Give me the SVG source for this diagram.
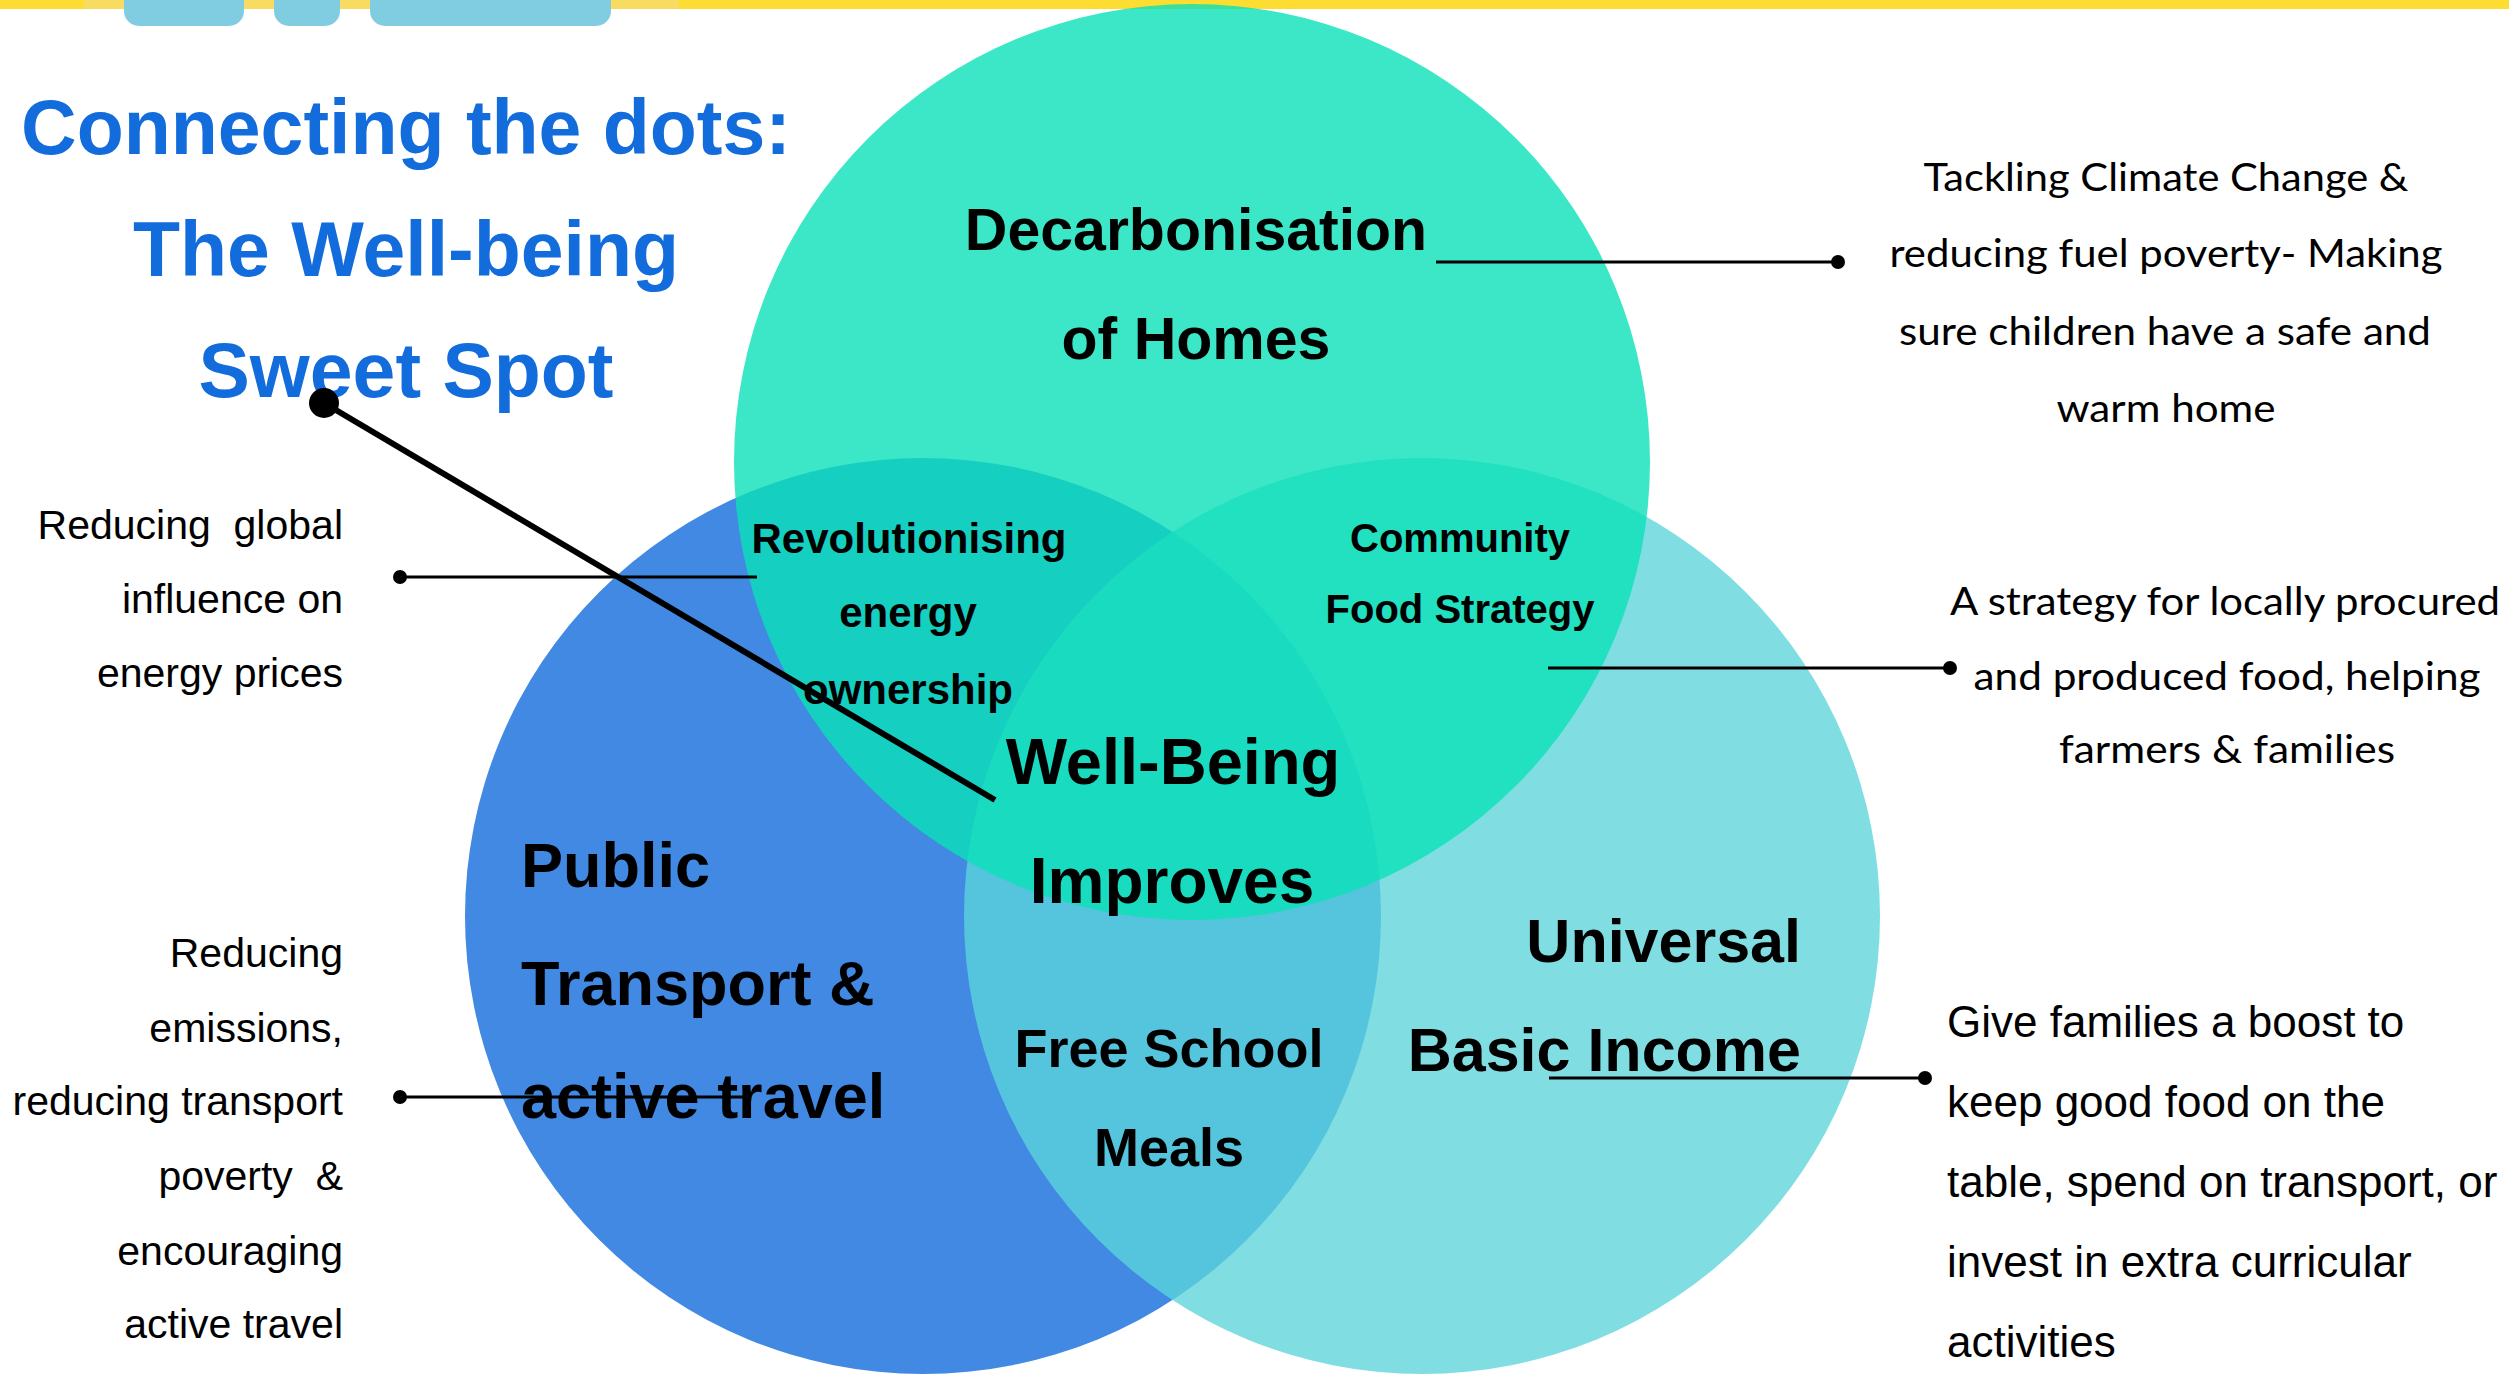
<svg xmlns="http://www.w3.org/2000/svg" width="2509" height="1376" viewBox="0 0 2509 1376">
<style>
.title{font-family:"Liberation Sans",Arial,sans-serif;font-weight:bold;fill:#136CDC;font-size:77px;text-anchor:middle}
.big{font-family:"Liberation Sans",Arial,sans-serif;font-weight:bold;fill:#000}
.note{font-family:"Liberation Sans",Arial,sans-serif;fill:#000}
.cal{font-family:Lato,"Noto Sans",sans-serif;fill:#000;font-size:39px;text-anchor:middle}
.conn{stroke:#000;stroke-width:3;fill:none}
.dot{fill:#000}
.pill{fill:#80CCE0}
</style>
<rect x="0" y="0" width="2509" height="1376" fill="#FFFFFF"/>
<g id="header">
<rect x="0" y="0" width="2509" height="9" fill="#FEDD33"/>
<rect x="84" y="0" width="595" height="9" fill="#F8DC62"/>
<rect class="pill" x="124" y="-20" width="120" height="46" rx="15"/>
<rect class="pill" x="274" y="-20" width="66" height="46" rx="15"/>
<rect class="pill" x="370" y="-20" width="241" height="46" rx="15"/>
</g>
<g id="title">
<text class="title" x="406" y="154">Connecting the dots:</text>
<text class="title" x="406" y="276">The Well-being</text>
<text class="title" x="406" y="397">Sweet Spot</text>
</g>
<g id="circle-transport">
<circle cx="923" cy="916" r="458" fill="#4189E3"/>
</g>
<g id="circle-income">
<circle cx="1422" cy="916" r="458" fill="#5BD4DB" fill-opacity="0.775"/>
</g>
<g id="circle-homes">
<circle cx="1192" cy="462" r="458" fill="#0AE1B8" fill-opacity="0.8"/>
</g>
<g id="label-homes" class="big" font-size="59" text-anchor="middle">
<text x="1196" y="250">Decarbonisation</text>
<text x="1196" y="359">of Homes</text>
</g>
<g id="label-energy" class="big" font-size="42" text-anchor="middle">
<text x="909" y="553">Revolutionising</text>
<text x="908" y="627">energy</text>
<text x="908" y="704">ownership</text>
</g>
<g id="label-food" class="big" font-size="40" text-anchor="middle">
<text x="1460" y="552">Community</text>
<text x="1460" y="623">Food Strategy</text>
</g>
<g id="label-wellbeing" class="big" font-size="65" text-anchor="middle">
<text x="1173" y="784">Well-Being</text>
<text x="1172" y="903" font-size="64">Improves</text>
</g>
<g id="label-transport" class="big" font-size="63">
<text x="521" y="887">Public</text>
<text x="521" y="1005">Transport &amp;</text>
<text x="521" y="1118">active travel</text>
</g>
<g id="label-meals" class="big" font-size="54" text-anchor="middle">
<text x="1169" y="1067">Free School</text>
<text x="1169" y="1166">Meals</text>
</g>
<g id="label-income" class="big" font-size="61" text-anchor="end">
<text x="1801" y="962">Universal</text>
<text x="1801" y="1071">Basic Income</text>
</g>
<g id="note-homes">
<text class="cal" x="2166" y="191" textLength="485" lengthAdjust="spacingAndGlyphs">Tackling Climate Change &amp;</text>
<text class="cal" x="2166" y="267" textLength="553" lengthAdjust="spacingAndGlyphs">reducing fuel poverty- Making</text>
<text class="cal" x="2165" y="345" textLength="532" lengthAdjust="spacingAndGlyphs">sure children have a safe and</text>
<text class="cal" x="2166" y="422" textLength="219" lengthAdjust="spacingAndGlyphs">warm home</text>
</g>
<g id="note-food">
<text class="cal" x="2225" y="615" textLength="550" lengthAdjust="spacingAndGlyphs">A strategy for locally procured</text>
<text class="cal" x="2227" y="690" textLength="507" lengthAdjust="spacingAndGlyphs">and produced food, helping</text>
<text class="cal" x="2227" y="763" textLength="336" lengthAdjust="spacingAndGlyphs">farmers &amp; families</text>
</g>
<g id="note-energy" class="note" font-size="41" text-anchor="end">
<text x="343" y="539" xml:space="preserve">Reducing  global</text>
<text x="343" y="613">influence on</text>
<text x="343" y="687">energy prices</text>
</g>
<g id="note-transport" class="note" font-size="41" text-anchor="end">
<text x="343" y="967">Reducing</text>
<text x="343" y="1042">emissions,</text>
<text x="343" y="1115">reducing transport</text>
<text x="343" y="1190" xml:space="preserve">poverty  &amp;</text>
<text x="343" y="1265">encouraging</text>
<text x="343" y="1338">active travel</text>
</g>
<g id="note-income" class="note" font-size="44">
<text x="1947" y="1037">Give families a boost to</text>
<text x="1947" y="1117">keep good food on the</text>
<text x="1947" y="1197">table, spend on transport, or</text>
<text x="1947" y="1277">invest in extra curricular</text>
<text x="1947" y="1357">activities</text>
</g>
<g id="connectors">
<line class="conn" x1="1436" y1="262" x2="1838" y2="262"/>
<circle class="dot" cx="1838" cy="262" r="7"/>
<line class="conn" x1="400" y1="577" x2="757" y2="577"/>
<circle class="dot" cx="400" cy="577" r="7"/>
<line class="conn" x1="1548" y1="668" x2="1950" y2="668"/>
<circle class="dot" cx="1950" cy="668" r="7"/>
<line class="conn" x1="400" y1="1097" x2="748" y2="1097"/>
<circle class="dot" cx="400" cy="1097" r="7"/>
<line class="conn" x1="1549" y1="1078" x2="1925" y2="1078"/>
<circle class="dot" cx="1925" cy="1078" r="7"/>
<line x1="324" y1="403" x2="995" y2="800" stroke="#000" stroke-width="6"/>
<circle class="dot" cx="324" cy="403" r="15"/>
</g>
</svg>
